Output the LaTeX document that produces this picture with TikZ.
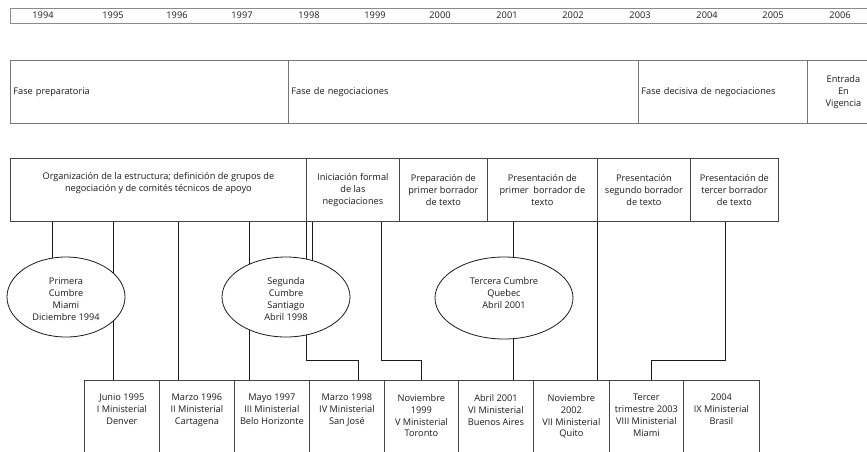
\documentclass[tikz,border=0pt]{standalone}
\usepackage{fontspec}
\setmainfont{Open Sans}
\usetikzlibrary{shapes.geometric}
\pgfdeclarelayer{bg}
\pgfsetlayers{bg,main}
\definecolor{bargray}{HTML}{8A8A8A}
\definecolor{phasegray}{HTML}{777777}
\definecolor{boxgray}{HTML}{444444}
\definecolor{ink}{HTML}{1A1A1A}
\begin{document}
\begin{tikzpicture}[x=1pt,y=-1pt,
  font=\fontsize{9.2}{11.9}\selectfont, text=ink,
  yearlbl/.style={inner sep=0pt},
  phasebox/.style={draw=phasegray, line width=0.9pt, minimum height=63pt, inner sep=3pt, anchor=north west, align=left},
  actbox/.style={draw=boxgray, line width=0.8pt, minimum height=63pt, inner sep=0pt, anchor=north west, align=center},
  minbox/.style={draw=boxgray, line width=0.8pt, minimum height=90pt, inner sep=0pt, anchor=north west},
  mintext/.style={inner sep=0pt, anchor=north, align=center},
  cumbre/.style={ellipse, draw=ink, line width=0.8pt, fill=white, inner sep=0pt, align=center},
  plain/.style={inner sep=0pt, align=center},
  conn/.style={draw=ink, line width=0.8pt}]
\useasboundingbox (0,0) rectangle (867,451);
\clip (0,0) rectangle (867,451);

% top timeline
\node[draw=bargray, line width=1.3pt, minimum width=900pt, minimum height=15pt, anchor=north west, inner sep=0pt] (bar) at (10,8) {};
\foreach \yr/\xx in {1994/43,1995/113,1996/177,1997/242,1998/309,1999/375,2000/440,2001/507,2002/573,2003/640,2004/707,2005/773,2006/840}
  \node[yearlbl] (y\yr) at (\xx,15.5) {\yr};

% phases
\node[phasebox, minimum width=278pt, text width=272pt] (p1) at (10,60) {Fase preparatoria};
\node[phasebox, minimum width=350pt, text width=344pt] (p2) at (288,60) {Fase de negociaciones};
\node[phasebox, minimum width=169pt, text width=163pt] (p3) at (638,60) {Fase decisiva de negociaciones};
\node[phasebox, minimum width=72pt, text width=66pt, align=center] (p4) at (807,60) {Entrada\\En\\Vigencia};

% activities
\node[actbox, minimum width=296pt] (a1) at (10,158) {Organización de la estructura; definición de grupos de\\negociación y de comités técnicos de apoyo\\\strut};
\node[actbox, minimum width=93pt] (a2) at (306,158) {Iniciación formal\\de las\\negociaciones};
\node[actbox, minimum width=88pt] (a3) at (399,158) {Preparación de\\primer borrador\\de texto};
\node[actbox, minimum width=110pt] (a4) at (487,158) {Presentación de\\primer\ \ borrador de\\texto};
\node[actbox, minimum width=93pt] (a5) at (597,158) {Presentación\\segundo borrador\\de texto};
\node[actbox, minimum width=88pt] (a6) at (690,158) {Presentación de\\tercer borrador\\de texto};

% ministerial boxes
\node[minbox, minimum width=75pt] (m1) at (84,380) {};
\node[minbox, minimum width=75pt] (m2) at (159,380) {};
\node[minbox, minimum width=75pt] (m3) at (234,380) {};
\node[minbox, minimum width=75pt] (m4) at (309,380) {};
\node[minbox, minimum width=74pt] (m5) at (384,380) {};
\node[minbox, minimum width=75pt] (m6) at (458,380) {};
\node[minbox, minimum width=76pt] (m7) at (533,380) {};
\node[minbox, minimum width=74pt] (m8) at (609,380) {};
\node[minbox, minimum width=76pt] (m9) at (683,380) {};
\node[mintext] (t1) at ([yshift=-14pt]m1.north) {Junio 1995\\I Ministerial\\Denver};
\node[mintext] (t2) at ([yshift=-14pt]m2.north) {Marzo 1996\\II Ministerial\\Cartagena};
\node[mintext] (t3) at ([yshift=-14pt]m3.north) {Mayo 1997\\III Ministerial\\Belo Horizonte};
\node[mintext] (t4) at ([yshift=-14pt]m4.north) {Marzo 1998\\IV Ministerial\\San José};
\node[mintext] (t5) at ([yshift=-14pt]m5.north) {Noviembre\\1999\\V Ministerial\\Toronto};
\node[mintext] (t6) at ([yshift=-14pt]m6.north) {Abril 2001\\VI Ministerial\\Buenos Aires};
\node[mintext] (t7) at ([yshift=-14pt]m7.north) {Noviembre\\2002\\VII Ministerial\\Quito};
\node[mintext] (t8) at ([yshift=-14pt]m8.north) {Tercer\\trimestre 2003\\VIII Ministerial\\Miami};
\node[mintext] (t9) at ([yshift=-14pt]m9.north) {2004\\IX Ministerial\\Brasil};

% summits
\node[cumbre, minimum width=118pt, minimum height=80pt] (e1) at (66,297) {};
\node[cumbre, minimum width=128pt, minimum height=80pt] (e2) at (286,297) {};
\node[cumbre, minimum width=138pt, minimum height=82pt] (e3) at (504,298) {};
\node[plain] (e1t) at (66,299) {Primera\\Cumbre\\Miami\\Diciembre 1994};
\node[plain] (e2t) at (286,299) {Segunda\\Cumbre\\Santiago\\Abril 1998};
\node[plain] (e3t) at (504,293) {Tercera Cumbre\\Quebec\\Abril 2001};

% helper coordinates
\coordinate (c52) at (52,0);
\coordinate (c113) at (113,0);
\coordinate (c178) at (178,0);
\coordinate (c249) at (249,0);
\coordinate (c312) at (312,0);
\coordinate (c381) at (381,0);
\coordinate (c513) at (513,0);
\coordinate (c725) at (725,0);
\coordinate (j4) at (358,360);
\coordinate (j5) at (421,360);
\coordinate (j8) at (651,360);

\begin{pgfonlayer}{bg}
\draw[conn] (a1.south -| c52) -- (e1.center -| c52);
\draw[conn] (a1.south -| c113) -- (m1.north -| c113);
\draw[conn] (a1.south -| c178) -- (m2.north -| c178);
\draw[conn] (a1.south -| c249) -- (m3.north -| c249);
\draw[conn] (a2.south west) |- (j4) -- (m4.north -| j4);
\draw[conn] (a2.south -| c312) -- (e2.center -| c312);
\draw[conn] (a2.south -| c381) |- (j5) -- (m5.north -| j5);
\draw[conn] (a4.south -| c513) -- (m6.north -| c513);
\draw[conn] (a5.south west) -- (m7.north -| a5.south west);
\draw[conn] (a6.south -| c725) |- (j8) -- (m8.north -| j8);
\end{pgfonlayer}
\end{tikzpicture}
\end{document}
